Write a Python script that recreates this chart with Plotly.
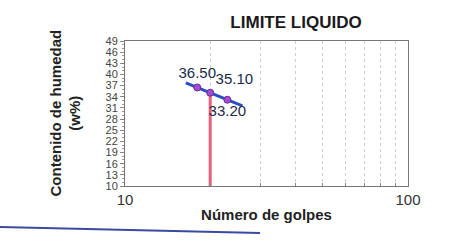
import numpy as np
import plotly.graph_objects as go

golpes = [18, 20, 23]
humedad = [36.50, 35.10, 33.20]
etiquetas = ["36.50", "35.10", "33.20"]
posiciones = ["top center", "top right", "bottom center"]
golpes_ref = 20
trend_range = [16.4, 26.0]
y_ticks = list(range(10, 50, 3))

lx = np.log10(golpes)
m, b = np.polyfit(lx, humedad, 1)
tx = np.array(trend_range)
ty = m * np.log10(tx) + b
y_ref = m * np.log10(golpes_ref) + b

fig = go.Figure()
fig.add_trace(go.Scatter(x=[golpes_ref, golpes_ref], y=[10, y_ref], mode="lines",
                         line=dict(color="#e8607a", width=3), hoverinfo="skip"))
fig.add_trace(go.Scatter(x=list(tx), y=list(ty), mode="lines",
                         line=dict(color="#2a4fc0", width=3), hoverinfo="skip"))
fig.add_trace(go.Scatter(x=golpes, y=humedad, mode="markers+text", text=etiquetas,
                         textposition=posiciones,
                         textfont=dict(family="Liberation Sans", size=15, color="#1c2a4a"),
                         marker=dict(color="#a54cd0", size=7, line=dict(color="#6a2a9a", width=1))))

fig.update_layout(
    width=449, height=241, showlegend=False,
    margin=dict(l=125, r=41, t=41, b=55),
    paper_bgcolor="white", plot_bgcolor="white",
    title=dict(text="<b>LIMITE LIQUIDO</b>", x=(296/449), xanchor="center", y=1 - 22/241, yanchor="middle",
               font=dict(family="Liberation Sans", size=17, color="#1a1a1a")),
    font=dict(family="Liberation Sans", color="#222"),
)
fig.update_xaxes(type="log", range=[1, 2], tickvals=[10, 100], ticktext=["10", "100"],
                 tickfont=dict(size=15, color="#333"),
                 showgrid=True, gridcolor="#cfcfcf", griddash="dot", gridwidth=1,
                 minor=dict(tickvals=[20, 30, 40, 50, 60, 70, 80, 90], showgrid=True,
                            gridcolor="#cfcfcf", griddash="dot", ticks="inside", ticklen=3,
                            tickcolor="#888"),
                 showline=True, linecolor="#777", linewidth=1, mirror=True,
                 title=dict(text="<b>Número de golpes</b>", font=dict(size=15, color="#222"), standoff=2),
                 zeroline=False)
fig.update_yaxes(range=[10, 49], tickvals=y_ticks, ticks="outside", ticklen=4, tickcolor="#888",
                 tickfont=dict(size=11, color="#444"),
                 showgrid=False, showline=True, linecolor="#777", linewidth=1, mirror=True,
                 zeroline=False,
                 minor=dict(dtick=1, ticks="outside", ticklen=2, tickcolor="#999"))
fig.add_annotation(text="<b>Contenido de humedad<br>(w%)</b>", textangle=-90,
                   xref="paper", yref="paper", x=(65 - 125) / 283, xanchor="center",
                   y=0.5, yanchor="middle", showarrow=False,
                   font=dict(size=15, color="#222"))
fig.add_shape(type="line", xref="paper", yref="paper", x0=-125/283, x1=(260-125)/283,
              y0=-(227-186)/145, y1=-(233-186)/145, line=dict(color="#3a4aa0", width=2))
fig.write_html("out.html", config={"displayModeBar": False},
               post_script="document.body.style.margin='0';")
